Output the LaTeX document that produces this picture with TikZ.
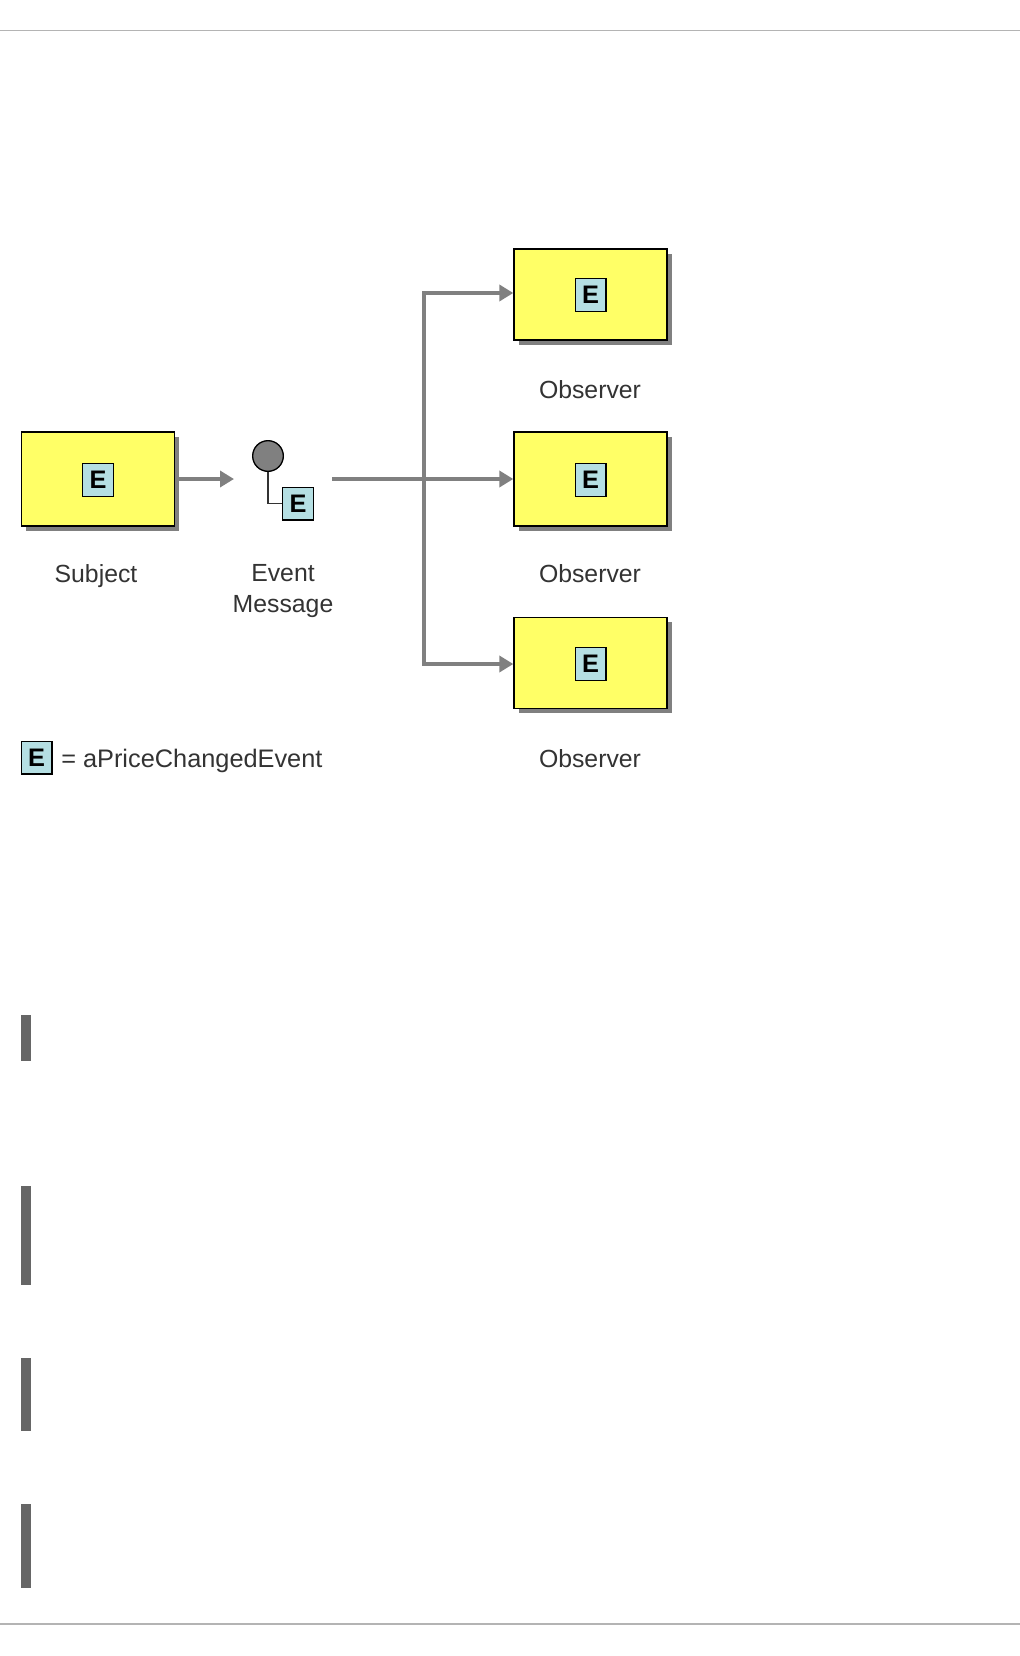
\documentclass[tikz,border=0pt]{standalone}
\usepackage{fontspec}
\setmainfont{Liberation Sans}
\usepackage{tikz}
\usetikzlibrary{arrows.meta, positioning, shadows}
\definecolor{boxyellow}{HTML}{FFFF66}
\definecolor{eventblue}{HTML}{B5DFE3}
\definecolor{flowgray}{HTML}{808080}
\definecolor{bargray}{HTML}{666666}
\definecolor{rulegray}{HTML}{B4B4B4}
\tikzset{
  actor/.style={draw=black, line width=1pt, fill=boxyellow, minimum width=114.75pt, inner sep=0pt,
    drop shadow={shadow xshift=3.4pt, shadow yshift=-3.4pt, fill=flowgray, opacity=1}},
  eventbox/.style={draw=black, line width=1pt, fill=eventblue, minimum width=23pt, minimum height=24.5pt,
    inner sep=0pt, font=\fontsize{19}{19}\selectfont\bfseries},
  caption/.style={font=\fontsize{18.6}{23.25}\selectfont, align=center, text=black!80, inner sep=0pt},
  flow/.style={draw=flowgray, line width=2.7pt, -{Triangle[length=10.5pt, width=12pt]}},
  sidebar/.style={fill=bargray, draw=none, minimum width=7.5pt, inner sep=0pt},
  pagerule/.style={draw=rulegray, line width=0.8pt}
}
\begin{document}
\begin{tikzpicture}[x=0.75pt, y=-0.75pt]
  \useasboundingbox (0,0) rectangle (1020,1656);
  % Page rules
  \coordinate (ruleTL) at (0,30.5);
  \coordinate (ruleTR) at (1020,30.5);
  \coordinate (ruleBL) at (0,1624);
  \coordinate (ruleBR) at (1020,1624);
  \draw[pagerule] (ruleTL) -- (ruleTR);
  \draw[pagerule] (ruleBL) -- (ruleBR);
  % Boxes
  \node[actor, minimum height=70.5pt] (subject) at (98,479) {};
  \node[actor, minimum height=68.25pt] (obsA) at (590.5,294.5) {};
  \node[actor, minimum height=70.5pt] (obsB) at (590.5,479) {};
  \node[actor, minimum height=68.25pt] (obsC) at (590.5,663) {};
  % Events in the boxes
  \node[eventbox] (subjectE) at (98,480) {E};
  \node[eventbox] (obsAE) at (590.5,295) {E};
  \node[eventbox] (obsBE) at (590.5,480) {E};
  \node[eventbox] (obsCE) at (590.5,664) {E};
  % Message
  \node[circle, draw=black, line width=1pt, fill=flowgray, minimum size=23pt, inner sep=0pt] (dot) at (268,456) {};
  \node[eventbox] (msgE) at (298,503.5) {E};
  \draw[line width=1.2pt, black!80] (dot.south) |- (msgE.west);
  % Connectors
  \coordinate (subjectOut) at (179,479);
  \coordinate (msgIn) at (234,479);
  \coordinate (msgOut) at (332,479);
  \coordinate (trunk) at (424,479);
  \coordinate (trunkTop) at (424,293);
  \coordinate (trunkBottom) at (424,664);
  \draw[flow] (subjectOut) -- (msgIn);
  \draw[flow] (msgOut) -- (obsB.west);
  \draw[flow] (trunk) -- (trunkTop) -- (obsA.west |- trunkTop);
  \draw[flow] (trunk) -- (trunkBottom) -- (obsC.west |- trunkBottom);
  % Labels
  \node[caption] (subjectLabel) at (96,576) {Subject};
  \node[caption, anchor=north] (msgLabel) at (283,564) {Event\\Message};
  \node[caption] (obsALabel) at (590,390) {Observer};
  \node[caption] (obsBLabel) at (590,574) {Observer};
  \node[caption] (obsCLabel) at (590,759) {Observer};
  % Legend
  \node[eventbox] (legendE) at (36.5,757.5) {E};
  \node[caption, anchor=west, font=\fontsize{19}{23}\selectfont] (legendText) at (61,761) {= aPriceChangedEvent};
  % Side bars
  \foreach \name/\top/\bottom in {barA/1015/1061, barB/1186/1285, barC/1358/1431, barD/1504/1588} {
    \node[sidebar, anchor=north west, minimum height=(\bottom-\top)*0.75pt] (\name) at (21,\top) {};
  }
\end{tikzpicture}
\end{document}
